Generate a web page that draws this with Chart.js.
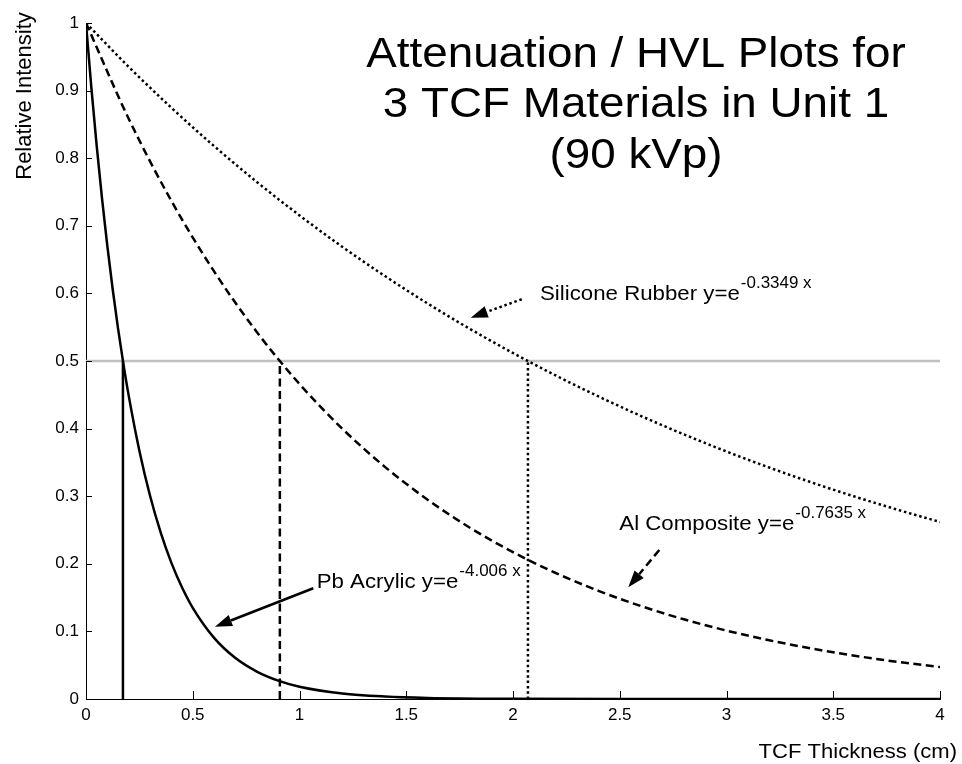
<!DOCTYPE html>
<html>
<head>
<meta charset="utf-8">
<script src="https://cdn.jsdelivr.net/npm/chart.js@4.4.1/dist/chart.umd.min.js"></script>
<style>
  html, body { margin: 0; padding: 0; background: #fff; }
  #wrap { width: 962px; height: 764px; position: relative; }
</style>
</head>
<body>
<div id="wrap"><canvas id="c" width="962" height="764"></canvas></div>
<script>
// ---- data ----
const pbX = [0, 0.025, 0.05, 0.075, 0.1, 0.125, 0.15, 0.175, 0.2, 0.25, 0.3, 0.35, 0.4, 0.45, 0.5, 0.6, 0.7, 0.8, 0.9, 1.0, 1.2, 1.4, 1.6, 2.0, 2.5, 3.0, 3.5, 4.0];
const pbY = [1, 0.9047, 0.8185, 0.7405, 0.6699, 0.6061, 0.5483, 0.4961, 0.4488, 0.3673, 0.3006, 0.2461, 0.2014, 0.1649, 0.1349, 0.0904, 0.0605, 0.0406, 0.0272, 0.0182, 0.0082, 0.0037, 0.0016, 0.0003, 0, 0, 0, 0];

const alX = [0, 0.2, 0.4, 0.6, 0.8, 1.0, 1.2, 1.4, 1.6, 1.8, 2.0, 2.2, 2.4, 2.6, 2.8, 3.0, 3.2, 3.4, 3.6, 3.8, 4.0];
const alY = [1, 0.8584, 0.7368, 0.6325, 0.5429, 0.4660, 0.4000, 0.3434, 0.2948, 0.2530, 0.2172, 0.1864, 0.1600, 0.1374, 0.1179, 0.1012, 0.0869, 0.0746, 0.0640, 0.0550, 0.0472];

const siX = [0, 0.2, 0.4, 0.6, 0.8, 1.0, 1.2, 1.4, 1.6, 1.8, 2.0, 2.2, 2.4, 2.6, 2.8, 3.0, 3.2, 3.4, 3.6, 3.8, 4.0];
const siY = [1, 0.9352, 0.8746, 0.8179, 0.7649, 0.7154, 0.6690, 0.6257, 0.5851, 0.5472, 0.5118, 0.4786, 0.4476, 0.4186, 0.3915, 0.3661, 0.3424, 0.3202, 0.2995, 0.2801, 0.2619];

// half value layers (cm) and the half-intensity level
const hvlX = [0.173, 0.908, 2.07];
const halfLevel = 0.5;

const xTicks = [0, 0.5, 1, 1.5, 2, 2.5, 3, 3.5, 4];
const yTicks = [0, 0.1, 0.2, 0.3, 0.4, 0.5, 0.6, 0.7, 0.8, 0.9, 1];

const titleLines = ["Attenuation / HVL Plots for", "3 TCF Materials in Unit 1", "(90 kVp)"];
const xLabel = "TCF Thickness (cm)";
const yLabel = "Relative Intensity";

// annotation labels: text, superscript, text anchor and arrow (data units)
const labels = [
  { text: "Silicone Rubber y=e", sup: "-0.3349 x", tx: 2.1265, ty: 0.5902, ax0: 2.0408, ay0: 0.5913, ax1: 1.8019, ay1: 0.5641, style: "dot" },
  { text: "Al Composite y=e", sup: "-0.7635 x", tx: 2.4979, ty: 0.2500, ax0: 2.6852, ay0: 0.2204, ax1: 2.5400, ay1: 0.1652, style: "dash" },
  { text: "Pb Acrylic y=e", sup: "-4.006 x", tx: 1.0806, ty: 0.1638, ax0: 1.0646, ay0: 0.1638, ax1: 0.6042, ay1: 0.1070, style: "solid" }
];

// ---- styles ----
const FONT = '"Liberation Sans", Arial, Helvetica, sans-serif';
const DASH = [8, 4.5];
const DOT = [2.5, 2.8];
const styleDash = { solid: [], dash: DASH, dot: DOT };

function pts(xs, ys) { return xs.map((x, i) => ({ x: x, y: ys[i] })); }

const datasets = [
  { data: pts(pbX, pbY), borderColor: '#000', borderWidth: 2.5, borderDash: [], cubicInterpolationMode: 'monotone', order: 1 },
  { data: pts(alX, alY), borderColor: '#000', borderWidth: 2.5, borderDash: DASH, cubicInterpolationMode: 'monotone', order: 2 },
  { data: pts(siX, siY), borderColor: '#000', borderWidth: 2.5, borderDash: DOT, cubicInterpolationMode: 'monotone', order: 3 },
  { data: [{ x: hvlX[0], y: 0 }, { x: hvlX[0], y: halfLevel }], borderColor: '#000', borderWidth: 2.5, borderDash: [], order: 4 },
  { data: [{ x: hvlX[1], y: 0 }, { x: hvlX[1], y: halfLevel }], borderColor: '#000', borderWidth: 2.5, borderDash: DASH, order: 5 },
  { data: [{ x: hvlX[2], y: 0 }, { x: hvlX[2], y: halfLevel }], borderColor: '#000', borderWidth: 2.5, borderDash: DOT, order: 6 },
  { data: [{ x: xTicks[0], y: halfLevel }, { x: xTicks[xTicks.length - 1], y: halfLevel }], borderColor: '#c0c0c0', borderWidth: 2.5, borderDash: [], order: 10 }
];
datasets.forEach(d => { d.pointRadius = 0; d.fill = false; d.showLine = true; });

function drawText(ctx, str, x, y, size, align, sx) {
  ctx.save();
  ctx.font = size + 'px ' + FONT;
  ctx.fillStyle = '#000';
  ctx.textBaseline = 'alphabetic';
  const w = ctx.measureText(str).width * sx;
  let left = x;
  if (align === 'center') left = x - w / 2;
  else if (align === 'right') left = x - w;
  ctx.translate(left, y);
  ctx.scale(sx, 1);
  ctx.textAlign = 'left';
  ctx.fillText(str, 0, 0);
  ctx.restore();
  return left + w;
}

function arrow(ctx, x0, y0, x1, y1, dash) {
  const ang = Math.atan2(y1 - y0, x1 - x0);
  const hl = 17, hw = 6;
  const bx = x1 - hl * Math.cos(ang), by = y1 - hl * Math.sin(ang);
  ctx.save();
  ctx.strokeStyle = '#000';
  ctx.fillStyle = '#000';
  ctx.lineWidth = 2.5;
  ctx.setLineDash(dash);
  ctx.beginPath();
  ctx.moveTo(x0, y0);
  ctx.lineTo(bx, by);
  ctx.stroke();
  ctx.setLineDash([]);
  ctx.beginPath();
  ctx.moveTo(x1, y1);
  ctx.lineTo(bx + hw * Math.sin(ang), by - hw * Math.cos(ang));
  ctx.lineTo(bx - hw * Math.sin(ang), by + hw * Math.cos(ang));
  ctx.closePath();
  ctx.fill();
  ctx.restore();
}

const decor = {
  id: 'decor',
  afterDatasetsDraw(chart) {
    const ctx = chart.ctx;
    const xs = chart.scales.x, ys = chart.scales.y;
    const ca = chart.chartArea;
    // inward tick marks
    ctx.save();
    ctx.strokeStyle = '#000';
    ctx.lineWidth = 1;
    xTicks.forEach(v => {
      const px = Math.round(xs.getPixelForValue(v)) + 0.5;
      ctx.beginPath(); ctx.moveTo(px, ca.bottom); ctx.lineTo(px, ca.bottom - 8); ctx.stroke();
    });
    yTicks.forEach(v => {
      const py = Math.round(ys.getPixelForValue(v)) + 0.5;
      ctx.beginPath(); ctx.moveTo(ca.left, py); ctx.lineTo(ca.left + 6, py); ctx.stroke();
    });
    ctx.restore();

    // title
    const cx = 636;
    const baselines = [67, 117, 168];
    titleLines.forEach((t, i) => drawText(ctx, t, cx, baselines[i], 42, 'center', 1.09));

    // annotations
    labels.forEach(l => {
      const tx = xs.getPixelForValue(l.tx), ty = ys.getPixelForValue(l.ty);
      const end = drawText(ctx, l.text, tx, ty, 21, 'left', 1.06);
      drawText(ctx, l.sup, end + 1, ty - 12, 16, 'left', 1.06);
      arrow(ctx, xs.getPixelForValue(l.ax0), ys.getPixelForValue(l.ay0),
                 xs.getPixelForValue(l.ax1), ys.getPixelForValue(l.ay1), styleDash[l.style]);
    });

    // axis titles
    drawText(ctx, xLabel, 957, 758, 21, 'right', 1.05);
    ctx.save();
    ctx.translate(31, 96);
    ctx.rotate(-Math.PI / 2);
    drawText(ctx, yLabel, 0, 0, 22, 'center', 1);
    ctx.restore();
  }
};

new Chart(document.getElementById('c'), {
  type: 'line',
  data: { datasets: datasets },
  plugins: [decor],
  options: {
    responsive: false,
    animation: false,
    devicePixelRatio: 1,
    layout: { padding: { left: 0, right: 22, top: 23, bottom: 0 } },
    plugins: { legend: { display: false }, tooltip: { enabled: false }, title: { display: false } },
    scales: {
      x: {
        type: 'linear', min: 0, max: 4,
        afterBuildTicks: s => { s.ticks = xTicks.map(v => ({ value: v })); },
        afterFit: s => { s.height = 65; },
        grid: { display: false, drawTicks: false },
        border: { display: true, color: '#000', width: 1 },
        ticks: { color: '#000', font: { family: FONT, size: 17 }, padding: 6, maxRotation: 0, autoSkip: false,
                 callback: v => String(v) }
      },
      y: {
        type: 'linear', min: 0, max: 1,
        afterBuildTicks: s => { s.ticks = yTicks.map(v => ({ value: v })); },
        afterFit: s => { s.width = 86; },
        grid: { display: false, drawTicks: false },
        border: { display: true, color: '#000', width: 1 },
        ticks: { color: '#000', font: { family: FONT, size: 17 }, padding: 7, autoSkip: false,
                 callback: v => String(v) }
      }
    }
  }
});
</script>
</body>
</html>
